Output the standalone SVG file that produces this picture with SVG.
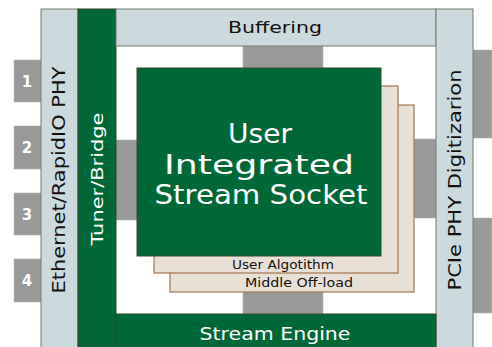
<svg xmlns="http://www.w3.org/2000/svg" width="492" height="347" viewBox="0 0 492 347">
<style>
.lb{fill:#cddadd;stroke:#6e7d6c;stroke-width:1}
.gr{fill:#006837;stroke:#2f4a2a;stroke-width:1}
.gy{fill:#999999;stroke:#b5b5b5;stroke-width:0.6}
.bg{fill:#e8e0d5;stroke:#a5764f;stroke-width:1.2}
text{font-family:"DejaVu Sans","Liberation Sans",Arial,sans-serif}
.w{fill:#ffffff}
.k{fill:#111111}
.num{font-size:15px;font-weight:bold;fill:#ffffff;text-anchor:middle}
</style>
<rect width="492" height="347" fill="#ffffff"/>
<g id="connectors">
<rect class="gy" x="14" y="60" width="27" height="42"/>
<rect class="gy" x="14" y="126" width="27" height="43"/>
<rect class="gy" x="14" y="193" width="27" height="42"/>
<rect class="gy" x="14" y="259" width="27" height="43"/>
<rect class="gy" x="116" y="140" width="21" height="80"/>
<rect class="gy" x="243" y="46" width="80" height="22"/>
<rect class="gy" x="243" y="292" width="80" height="22"/>
<rect class="gy" x="414" y="139" width="22" height="79"/>
<rect class="gy" x="473" y="50" width="19" height="88"/>
<rect class="gy" x="473" y="218" width="19" height="95"/>
</g>
<g id="port1"><text class="num" x="27" y="87">1</text></g>
<g id="port2"><text class="num" x="27" y="153">2</text></g>
<g id="port3"><text class="num" x="27" y="220">3</text></g>
<g id="port4"><text class="num" x="27" y="286">4</text></g>
<g id="ethernet">
<rect class="lb" x="41" y="9" width="37" height="339"/>
<text class="k" transform="translate(65,180) rotate(-90)" text-anchor="middle" font-size="17" textLength="227" lengthAdjust="spacingAndGlyphs">Ethernet/RapidIO PHY</text>
</g>
<g id="tuner">
<rect class="gr" x="78" y="9" width="38" height="339"/>
<text class="w" transform="translate(103,179) rotate(-90)" text-anchor="middle" font-size="15" textLength="133" lengthAdjust="spacingAndGlyphs">Tuner/Bridge</text>
</g>
<g id="buffering">
<rect class="lb" x="116" y="9" width="320" height="37"/>
<text class="k" x="275" y="33" text-anchor="middle" font-size="15" textLength="94" lengthAdjust="spacingAndGlyphs">Buffering</text>
</g>
<g id="pcie">
<rect class="lb" x="436" y="9" width="37" height="339"/>
<text class="k" transform="translate(461,180) rotate(-90)" text-anchor="middle" font-size="17" textLength="221" lengthAdjust="spacingAndGlyphs">PCIe PHY Digitizarion</text>
</g>
<g id="stream-engine">
<rect class="gr" x="116" y="314" width="320" height="34"/>
<text class="w" x="275" y="340" text-anchor="middle" font-size="17" textLength="151" lengthAdjust="spacingAndGlyphs">Stream Engine</text>
</g>
<g id="middle-offload">
<rect class="bg" x="170" y="105" width="244" height="187"/>
<text class="k" x="299" y="287" text-anchor="middle" font-size="11.5" textLength="108" lengthAdjust="spacingAndGlyphs">Middle Off-load</text>
</g>
<g id="user-algorithm">
<rect class="bg" x="154" y="86" width="244" height="187"/>
<text class="k" x="283" y="269" text-anchor="middle" font-size="11.5" textLength="102" lengthAdjust="spacingAndGlyphs">User Algotithm</text>
</g>
<g id="socket">
<rect class="gr" x="137" y="68" width="244" height="188"/>
<text class="w" x="260" y="143" text-anchor="middle" font-size="26" textLength="64" lengthAdjust="spacingAndGlyphs">User</text>
<text class="w" x="259" y="174" text-anchor="middle" font-size="26" textLength="190" lengthAdjust="spacingAndGlyphs">Integrated</text>
<text class="w" x="261" y="204" text-anchor="middle" font-size="26" textLength="213" lengthAdjust="spacingAndGlyphs">Stream Socket</text>
</g>
</svg>
